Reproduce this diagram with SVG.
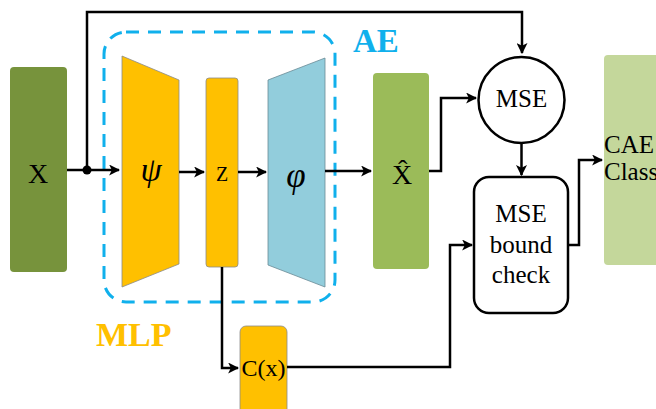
<svg xmlns="http://www.w3.org/2000/svg" width="656" height="409" viewBox="0 0 656 409">
<style>
.t{font-family:"Liberation Serif","Times New Roman",serif;fill:#000;text-anchor:middle}
.c{fill:none;stroke:#000;stroke-width:2.5}
.lbl{font-family:"Liberation Serif","Times New Roman",serif;font-weight:bold}
</style>
<defs>
<marker id="ah" viewBox="0 0 10 10" refX="9" refY="5" markerWidth="4.4" markerHeight="4.4" orient="auto" markerUnits="strokeWidth">
<path d="M0,0 L10,5 L0,10 L2.5,5 z" fill="#000"/>
</marker>
</defs>
<rect width="656" height="409" fill="#fff"/>
<g id="ae-group">
<rect x="104" y="32" width="231" height="270" rx="22" fill="none" stroke="#10B0EC" stroke-width="3" stroke-dasharray="13 9"/>
<text class="lbl" x="353" y="52" font-size="33" fill="#10B0EC">AE</text>
</g>
<g id="mlp-label"><text class="lbl" x="96" y="346" font-size="34" fill="#FFC000">MLP</text></g>
<g id="x"><rect x="10" y="67" width="57" height="205" rx="4" fill="#77933C"/><text class="t" x="38" y="183" font-size="28">X</text></g>
<g id="psi"><polygon points="122,56 179,80 179,264 122,287" fill="#FFC000" stroke="#8a8a8a" stroke-width="0.8"/><text class="t" x="151" y="181" font-size="34" font-style="italic">ψ</text></g>
<g id="z"><rect x="206" y="78" width="32" height="189" rx="3" fill="#FFC000" stroke="#8a8a8a" stroke-width="0.8"/><text class="t" x="222" y="181" font-size="20">Z</text></g>
<g id="phi"><polygon points="268,80 325,58 325,287 268,265" fill="#92CDDC" stroke="#6a8a95" stroke-width="0.8"/><text class="t" x="296" y="187" font-size="35" font-style="italic">φ</text></g>
<g id="xhat"><rect x="373" y="73" width="56" height="196" rx="4" fill="#9BBB59"/><text class="t" x="402" y="184" font-size="28">X̂</text></g>
<g id="mse"><circle cx="521.5" cy="100" r="43" fill="#fff" stroke="#000" stroke-width="2.5"/><text class="t" x="521.5" y="107" font-size="25">MSE</text></g>
<g id="bound"><rect x="474" y="177" width="94" height="136" rx="15" fill="#fff" stroke="#000" stroke-width="2.5"/>
<text class="t" x="521" y="222" font-size="25">MSE</text><text class="t" x="521" y="253" font-size="25">bound</text><text class="t" x="521" y="283" font-size="25">check</text></g>
<g id="cae"><rect x="604" y="55" width="60" height="210" rx="4" fill="#C4D79B"/>
<text class="t" x="604" y="153" font-size="25" style="text-anchor:start">CAE</text><text class="t" x="604" y="180" font-size="25" style="text-anchor:start">Class</text></g>
<g id="cx"><rect x="240" y="326" width="47" height="95" rx="6" fill="#FFC000" stroke="#8a8a8a" stroke-width="0.8"/><text class="t" x="263.5" y="376" font-size="24">C(x)</text></g>
<g id="connectors">
<path class="c" d="M67,170 L119,170" marker-end="url(#ah)"/>
<circle cx="87" cy="170" r="4.5" fill="#000"/>
<path class="c" d="M87,170 L87,12 L522,12 L522,53" marker-end="url(#ah)"/>
<path class="c" d="M179,172 L204,172" marker-end="url(#ah)"/>
<path class="c" d="M238,172 L266,172" marker-end="url(#ah)"/>
<path class="c" d="M325,171 L371,171" marker-end="url(#ah)"/>
<path class="c" d="M429,171 L441,171 L441,98 L476,98" marker-end="url(#ah)"/>
<path class="c" d="M521.5,143 L521.5,175" marker-end="url(#ah)"/>
<path class="c" d="M568,245 L579,245 L579,160 L602,160" marker-end="url(#ah)"/>
<path class="c" d="M222,267 L222,368 L238,368" marker-end="url(#ah)"/>
<path class="c" d="M287,367 L450,367 L450,245 L472,245" marker-end="url(#ah)"/>
</g>
</svg>
